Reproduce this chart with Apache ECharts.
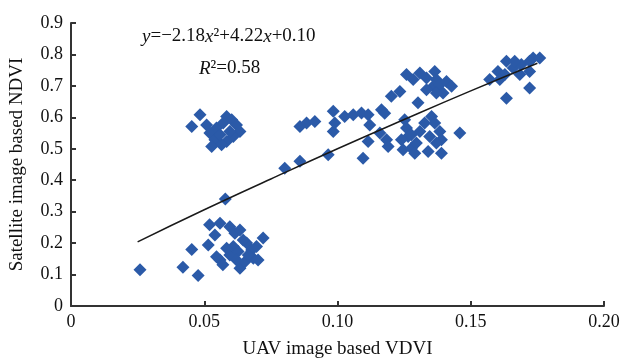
<!DOCTYPE html>
<html>
<head>
<meta charset="utf-8">
<script src="https://cdn.jsdelivr.net/npm/echarts@6/dist/echarts.min.js"></script>
<style>html,body{margin:0;padding:0;background:#fff}#c{width:625px;height:358px}</style>
</head>
<body>
<div id="c"></div>
<script>
// UAV VDVI (x) values of the scatter points
const vdvi = [
  0.0259, 0.0453, 0.0420, 0.0477, 0.0579,
  0.0520, 0.0559, 0.0515, 0.0540, 0.0596, 0.0615, 0.0634, 0.0721, 0.0559, 0.0570,
  0.0596, 0.0609, 0.0627, 0.0634, 0.0653, 0.0659, 0.0678, 0.0684, 0.0696, 0.0702,
  0.0584, 0.0546, 0.0621, 0.0665, 0.0646,
  0.0453, 0.0484, 0.0509, 0.0521, 0.0540, 0.0546, 0.0571, 0.0584, 0.0603, 0.0621,
  0.0634, 0.0609, 0.0584, 0.0565, 0.0528, 0.0559, 0.0596,
  0.0859, 0.0884, 0.0915, 0.0802, 0.0859,
  0.0965, 0.1096, 0.0984, 0.0984, 0.0990, 0.1027, 0.1059, 0.1090, 0.1115, 0.1121,
  0.1115, 0.1165, 0.1177, 0.1202, 0.1234, 0.1302, 0.1184, 0.1159, 0.1190,
  0.1259, 0.1284, 0.1309, 0.1334, 0.1365, 0.1371, 0.1359, 0.1334, 0.1384, 0.1409,
  0.1428, 0.1396, 0.1371,
  0.1252, 0.1259, 0.1265, 0.1240, 0.1246, 0.1277, 0.1296, 0.1309, 0.1327, 0.1353,
  0.1365, 0.1346, 0.1384, 0.1390, 0.1371, 0.1390, 0.1290, 0.1459, 0.1340, 0.1277,
  0.1571, 0.1602, 0.1634, 0.1628, 0.1659, 0.1684, 0.1690, 0.1721, 0.1734, 0.1759,
  0.1721, 0.1634, 0.1721, 0.1609, 0.1665
];
// Satellite NDVI (y) values of the scatter points
const ndvi = [
  0.115, 0.180, 0.123, 0.097, 0.340,
  0.258, 0.263, 0.194, 0.226, 0.252, 0.231, 0.242, 0.216, 0.146, 0.131,
  0.162, 0.189, 0.173, 0.120, 0.141, 0.200, 0.178, 0.152, 0.189, 0.146,
  0.184, 0.157, 0.146, 0.162, 0.210,
  0.571, 0.608, 0.576, 0.550, 0.529, 0.566, 0.582, 0.603, 0.592, 0.576,
  0.555, 0.539, 0.523, 0.513, 0.507, 0.545, 0.555,
  0.571, 0.582, 0.587, 0.438, 0.460,
  0.481, 0.470, 0.619, 0.555, 0.582, 0.603, 0.608, 0.614, 0.608, 0.576,
  0.523, 0.624, 0.613, 0.667, 0.682, 0.646, 0.529, 0.550, 0.507,
  0.736, 0.720, 0.741, 0.725, 0.746, 0.720, 0.699, 0.688, 0.704, 0.714,
  0.699, 0.677, 0.677,
  0.592, 0.566, 0.539, 0.529, 0.497, 0.502, 0.518, 0.555, 0.582, 0.603,
  0.582, 0.539, 0.555, 0.529, 0.518, 0.486, 0.486, 0.550, 0.491, 0.545,
  0.720, 0.746, 0.778, 0.736, 0.757, 0.736, 0.768, 0.778, 0.789, 0.789,
  0.746, 0.661, 0.693, 0.720, 0.778
];
// Fitted trend curve
const fitX = [0.025, 0.05, 0.075, 0.10, 0.125, 0.15, 0.175];
const fitY = [0.204, 0.306, 0.404, 0.500, 0.593, 0.684, 0.772];
const xTicks = [0, 0.05, 0.10, 0.15, 0.20];
const yTicks = [0, 0.1, 0.2, 0.3, 0.4, 0.5, 0.6, 0.7, 0.8, 0.9];

const serif = '"Liberation Serif", "Times New Roman", serif';
const pts = vdvi.map((v, i) => [v, ndvi[i]]);
const fit = fitX.map((v, i) => [v, fitY[i]]);

const chart = echarts.init(document.getElementById('c'), null, {renderer: 'canvas'});
const axisCommon = {
  axisLine: {show: true, onZero: false, lineStyle: {color: '#333', width: 2}},
  axisTick: {show: true, inside: true, length: 5, lineStyle: {color: '#333', width: 2}},
  splitLine: {show: false},
  nameTextStyle: {fontFamily: serif, fontSize: 19, color: '#111'}
};
chart.setOption({
  animation: false,
  backgroundColor: '#fff',
  grid: {left: 71, right: 21, top: 23, bottom: 52, containLabel: false, outerBoundsMode: 'none'},
  xAxis: Object.assign({}, axisCommon, {
    type: 'value', min: xTicks[0], max: xTicks[xTicks.length - 1], interval: 0.05,
    name: 'UAV image based VDVI', nameLocation: 'middle', nameGap: 34,
    axisLabel: {fontFamily: serif, fontSize: 18, color: '#111', margin: 7,
      formatter: v => v === 0 ? '0' : v.toFixed(2)}
  }),
  yAxis: Object.assign({}, axisCommon, {
    type: 'value', min: yTicks[0], max: yTicks[yTicks.length - 1], interval: 0.1,
    name: 'Satellite image based NDVI', nameLocation: 'middle', nameGap: 44,
    axisLabel: {fontFamily: serif, fontSize: 18, color: '#111', margin: 8,
      formatter: v => v === 0 ? '0' : v.toFixed(1)}
  }),
  series: [
    {type: 'scatter', data: pts, symbol: 'diamond', symbolSize: 13,
     itemStyle: {color: '#2b5aa8', opacity: 1}, z: 2},
    {type: 'line', data: fit, smooth: true, showSymbol: false, symbol: 'none',
     lineStyle: {color: '#1a1a1a', width: 1.5}, z: 3}
  ],
  graphic: [
    {type: 'text', left: 142, top: 27, style: {
      text: '{i|y}=−2.18{i|x}²+4.22{i|x}+0.10',
      font: '19px ' + serif, fill: '#111',
      rich: {i: {fontStyle: 'italic', fontFamily: serif, fontSize: 19, fill: '#111'}}
    }},
    {type: 'text', left: 199, top: 59, style: {
      text: '{i|R}²=0.58',
      font: '19px ' + serif, fill: '#111',
      rich: {i: {fontStyle: 'italic', fontFamily: serif, fontSize: 19, fill: '#111'}}
    }}
  ]
});
</script>
</body>
</html>
